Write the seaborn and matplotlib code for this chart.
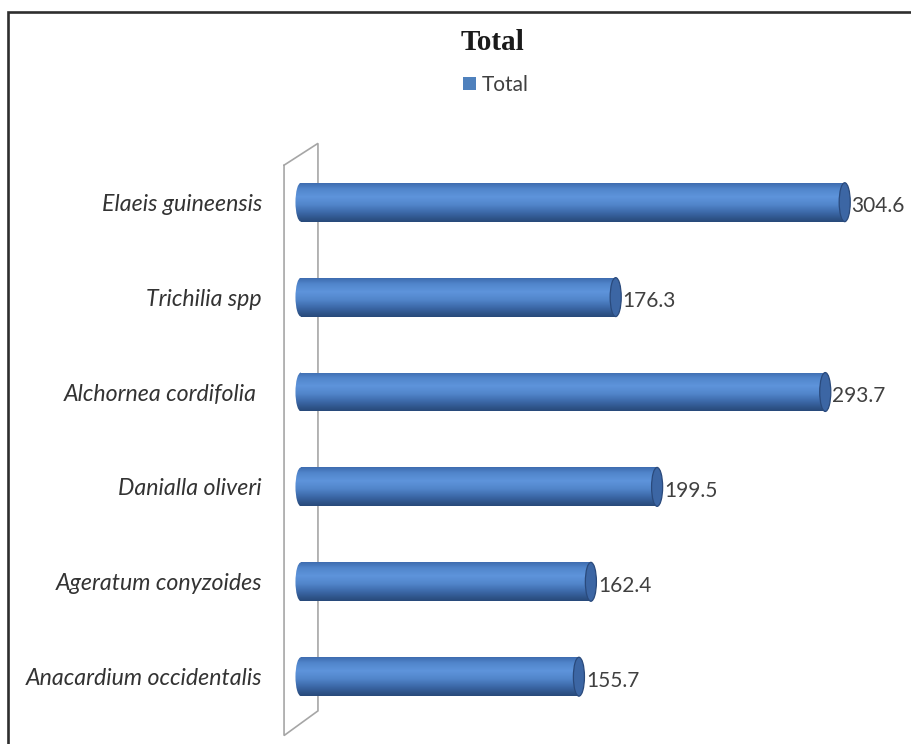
import numpy as np
import pandas as pd
import matplotlib
matplotlib.use("Agg")
import matplotlib.pyplot as plt
from matplotlib.patches import Ellipse, Patch
from matplotlib.lines import Line2D
from matplotlib.colors import to_rgb
import seaborn as sns

# ---- data ----
species = ["Elaeis guineensis", "Trichilia spp", "Alchornea cordifolia ",
           "Danialla oliveri", "Ageratum conyzoides", "Anacardium occidentalis"]
totals = [304.6, 176.3, 293.7, 199.5, 162.4, 155.7]
value_labels = ["304.6", "176.3", "293.7", "199.5", "162.4", "155.7"]
series_name = "Total"
title_text = "Total"

df = pd.DataFrame({"species": species, "total": totals})

sns.set_theme(style="white")
plt.rcParams["font.family"] = ["Lato", "DejaVu Sans"]

W, H = 911, 744
fig = plt.figure(figsize=(W / 100, H / 100), dpi=100)
fig.patch.set_facecolor("white")

# axes placement (pixels -> fractions)
xl, xr = -20, 335
yb, yt = 5.7, -0.8
px_per_x = 1.785
x0px = 301.0
c0px = 202.2
px_per_y = 94.9
left_px = x0px + xl * px_per_x
right_px = x0px + xr * px_per_x
top_px = c0px + yt * px_per_y
bot_px = c0px + yb * px_per_y
ax = fig.add_axes([left_px / W, (H - bot_px) / H,
                   (right_px - left_px) / W, (bot_px - top_px) / H])
ax.set_facecolor("none")

bar_h = 0.41
base_color = "#4f81bd"
sns.barplot(data=df, x="total", y="species", orient="h", color=base_color,
            width=bar_h, ax=ax, zorder=2)

# vertical gradient for cylinder effect
stops = [(0.0, "#3f6db0"), (0.15, "#5186cc"), (0.35, "#5e94db"),
         (0.55, "#5286cb"), (0.75, "#3d6aaa"), (0.92, "#2e5388"), (1.0, "#284a7a")]
n = 64
t = np.linspace(0, 1, n)
pos = [s[0] for s in stops]
cols = np.array([to_rgb(s[1]) for s in stops])
grad = np.stack([np.interp(t, pos, cols[:, k]) for k in range(3)], axis=-1)[:, None, :]

cap_w = 6.2
for p in list(ax.patches):
    x0, y0 = p.get_x(), p.get_y()
    w, h = p.get_width(), p.get_height()
    yc = y0 + h / 2
    p.set_edgecolor("none")
    p.set_facecolor("none")
    # body
    im = ax.imshow(grad, extent=(x0, x0 + w, y0 + h, y0), origin="upper",
                   aspect="auto", zorder=3, interpolation="bilinear")
    im.set_clip_path(p)
    # rounded left end
    le = Ellipse((0, yc), cap_w, h, facecolor="none", edgecolor="none", zorder=3)
    ax.add_patch(le)
    im2 = ax.imshow(grad, extent=(-cap_w / 2, 0.01, y0 + h, y0), origin="upper",
                    aspect="auto", zorder=3, interpolation="bilinear")
    im2.set_clip_path(le)
    # right cap
    rc = Ellipse((w, yc), cap_w, h, facecolor="#3c66a4", edgecolor="#2a4a7c",
                 linewidth=0.9, zorder=4)
    ax.add_patch(rc)

for i, (v, lab) in enumerate(zip(totals, value_labels)):
    ax.annotate(lab, xy=(v, i), xytext=(5, -3), textcoords="offset points",
                ha="left", va="center", fontsize=15, color="#404040",
                fontfamily=["Lato", "DejaVu Sans"], zorder=5)

# back wall (outline)
wall_x = [-9.5, -9.5, 9.5, 9.5, -9.5]
wall_y = [-0.39, 5.62, 5.36, -0.62, -0.39]
ax.plot(wall_x, wall_y, color="#a6a6a6", linewidth=1.2, zorder=1,
        solid_joinstyle="miter")

ax.set_xlim(xl, xr)
ax.set_ylim(yb, yt)
ax.set_xlabel("")
ax.set_ylabel("")
ax.set_xticks([])
for s in ax.spines.values():
    s.set_visible(False)
ax.tick_params(axis="y", length=0, pad=2.5)
for tl in ax.get_yticklabels():
    tl.set_fontstyle("italic")
    tl.set_fontsize(16.7)
    tl.set_color("#333333")
    tl.set_fontfamily(["Lato", "DejaVu Sans"])

# title and legend
fig.text(492 / W, 1 - 42 / H, title_text, ha="center", va="center",
         fontsize=21, fontweight="bold",
         fontfamily=["Liberation Serif", "DejaVu Serif"], color="#1a1a1a")
leg = fig.legend(handles=[Patch(facecolor=base_color, edgecolor="none", label=series_name)],
                 loc="center", bbox_to_anchor=(496 / W, 1 - 85 / H), frameon=False,
                 fontsize=15, handlelength=0.6, handleheight=0.6, handletextpad=0.3,
                 borderpad=0, borderaxespad=0)
for tx in leg.get_texts():
    tx.set_color("#404040")

# outer border (top and left)
fig.add_artist(Line2D([8.3 / W, 8.3 / W, 1.0], [0.0, 1 - 12 / H, 1 - 12 / H],
                      transform=fig.transFigure, color="#2e2e2e", linewidth=1.9,
                      solid_joinstyle="miter"))

fig.savefig("out.png", dpi=100)
